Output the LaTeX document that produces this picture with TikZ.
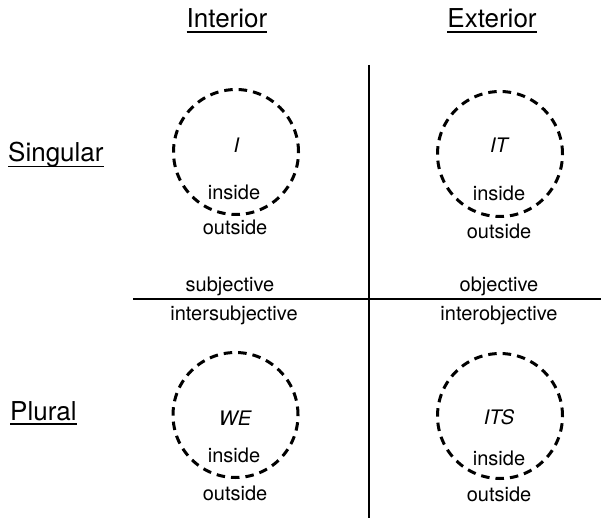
\documentclass[tikz,border=0pt]{standalone}
\usepackage{fontspec}
\setmainfont{TeX Gyre Heros}
\usetikzlibrary{calc}
\tikzset{
  lbl/.style={font=\fontsize{20}{24}\selectfont, inner sep=0pt, anchor=base},
  hdr/.style={font=\fontsize{26}{30}\selectfont, inner sep=0pt, anchor=base},
  ring/.style={circle, draw, line width=3pt, dash pattern=on 8.5pt off 6pt, minimum size=125pt, inner sep=0pt},
  axis/.style={line width=1.6pt},
  uline/.style={line width=1.3pt}
}
\begin{document}
\begin{tikzpicture}[x=1pt,y=-1pt]
\useasboundingbox (0,0) rectangle (601,518);
% axes
\coordinate (vtop) at (369,65);
\coordinate (vbot) at (369,518);
\coordinate (hleft) at (133,299);
\coordinate (hright) at (601,299);
\draw[axis] (vtop) -- (vbot);
\draw[axis] (hleft) -- (hright);
% headers
\node[hdr] (interior) at (227,28) {Interior};
\node[hdr] (exterior) at (492,28) {Exterior};
\node[hdr, anchor=base west] (singular) at (8,161.5) {Singular};
\node[hdr, anchor=base west] (plural) at (10,420) {Plural};
\foreach \n/\d in {interior/4, exterior/4, singular/5, plural/4}
  \draw[uline] ($(\n.base west)+(0,\d)$) -- ($(\n.base east)+(0,\d)$);
% circles
\node[ring] (c1) at (236,152) {};
\node[ring] (c2) at (500,154) {};
\node[ring] (c3) at (235.5,415) {};
\node[ring] (c4) at (500,416) {};
% circle texts
\node[lbl] (t1) at (236.5,153) {\itshape I};
\node[lbl] (t2) at (499,153) {\itshape IT};
\node[lbl] (t3) at (235,425.5) {\itshape WE};
\node[lbl] (t4) at (499,424) {\itshape ITS};
\node[lbl] (in1) at (234,200) {inside};
\node[lbl] (in2) at (499,200.5) {inside};
\node[lbl] (in3) at (234,462.5) {inside};
\node[lbl] (in4) at (499,465) {inside};
\node[lbl] (out1) at (235,234) {outside};
\node[lbl] (out2) at (499,238) {outside};
\node[lbl] (out3) at (235,500.5) {outside};
\node[lbl] (out4) at (499,501.5) {outside};
% quadrant labels
\node[lbl] (subj) at (230,291) {subjective};
\node[lbl] (obj) at (499,291) {objective};
\node[lbl] (isubj) at (234,320) {intersubjective};
\node[lbl] (iobj) at (499,320) {interobjective};
\end{tikzpicture}
\end{document}
